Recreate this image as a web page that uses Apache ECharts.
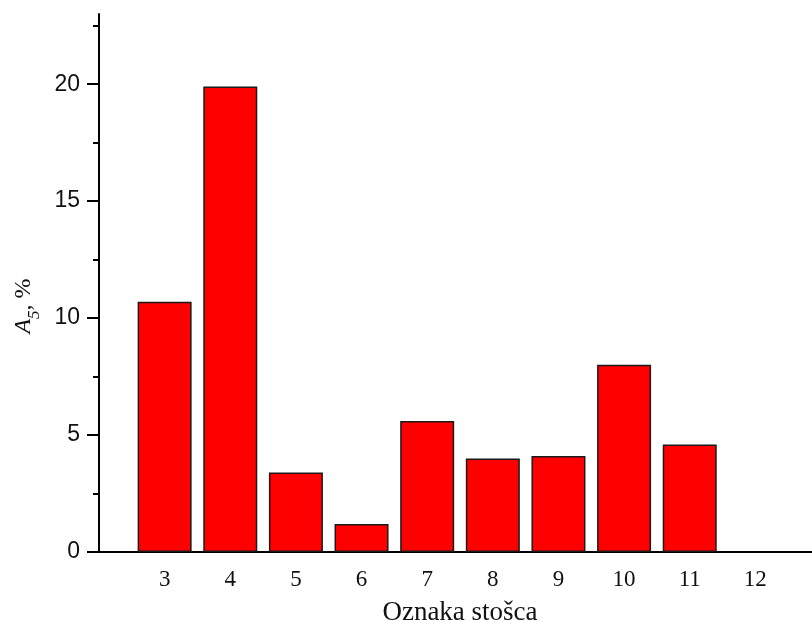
<!DOCTYPE html>
<html><head><meta charset="utf-8">
<script src="https://cdn.jsdelivr.net/npm/echarts@6/dist/echarts.min.js"></script>
<style>html,body{margin:0;padding:0;background:#fff;overflow:hidden}#c{width:812px;height:621px}</style>
</head><body><div id="c"></div>
<script>
const categories = [3, 4, 5, 6, 7, 8, 9, 10, 11, 12];
const values = [10.7, 19.9, 3.4, 1.2, 5.6, 4.0, 4.1, 8.0, 4.6, 0];
const yTicks = [0, 5, 10, 15, 20];
const yMinorTicks = [2.5, 7.5, 12.5, 17.5, 22.5];

const chart = echarts.init(document.getElementById('c'), null, {renderer: 'canvas'});
chart.setOption({
  animation: false,
  grid: {left: 99, right: -9, top: 14, bottom: 69, containLabel: false, outerBoundsMode: 'none'},
  xAxis: {
    type: 'value', min: 2, max: 13, interval: 1,
    axisLine: {show: true, lineStyle: {color: '#000', width: 2}},
    axisTick: {show: false},
    splitLine: {show: false},
    axisLabel: {
      customValues: categories,
      color: '#111', fontFamily: 'Liberation Serif', fontSize: 23, margin: 16
    },
    name: 'Oznaka stošca', nameLocation: 'middle', nameGap: 47,
    nameTextStyle: {fontFamily: 'Liberation Serif', fontSize: 27, color: '#111'}
  },
  yAxis: [{
    type: 'value', min: 0, max: 23,
    axisLine: {show: true, lineStyle: {color: '#000', width: 2}},
    axisTick: {show: true, customValues: yTicks, length: 12, inside: false, lineStyle: {color: '#000', width: 2}},
    axisLabel: {customValues: yTicks, color: '#111', fontFamily: 'Liberation Sans', fontSize: 23, margin: 19},
    splitLine: {show: false},
    name: '{a|A}{s|5}{n|, %}', nameLocation: 'middle', nameRotate: 90, nameGap: 63,
    nameTextStyle: {
      padding: [0, 46, 0, 0],
      rich: {
        a: {fontFamily: 'Liberation Serif', fontStyle: 'italic', fontSize: 24, color: '#111'},
        s: {fontFamily: 'Liberation Serif', fontStyle: 'italic', fontSize: 17, color: '#111', verticalAlign: 'bottom', padding: [0, 0, -7, 0]},
        n: {fontFamily: 'Liberation Serif', fontSize: 24, color: '#111'}
      }
    }
  }, {
    type: 'value', min: 0, max: 23, position: 'left',
    axisLine: {show: false},
    axisTick: {show: true, customValues: yMinorTicks, length: 6, lineStyle: {color: '#000', width: 2}},
    axisLabel: {show: false},
    splitLine: {show: false}
  }],
  series: [{
    type: 'bar',
    barWidth: 54,
    data: categories.map((c, i) => ({
      value: [c, values[i]],
      itemStyle: values[i] === 0 ? {borderWidth: 0} : undefined
    })),
    itemStyle: {color: '#ff0000', borderColor: '#1a1a1a', borderWidth: 1.5}
  }]
});
</script>
</body></html>
